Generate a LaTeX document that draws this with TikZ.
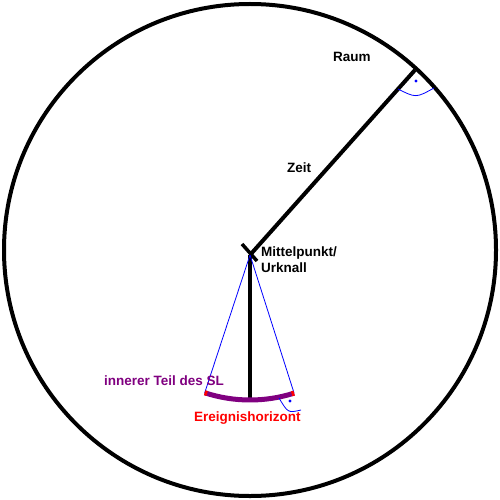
\documentclass[tikz,border=0pt]{standalone}
\usepackage{fontspec}
\setsansfont{Liberation Sans}
\usepackage{xcolor}
\usetikzlibrary{positioning,calc}
\definecolor{slpurple}{HTML}{800080}
\definecolor{slred}{HTML}{FF0000}
\definecolor{slblue}{HTML}{0000FF}

\begin{document}
\begin{tikzpicture}[x=1pt, y=1pt, line join=round, font=\sffamily\bfseries\fontsize{13.5}{15}\selectfont]
  \useasboundingbox (0,0) rectangle (500,-500);
  \fill[white] (0,0) rectangle (500,-500);
  % universe
  \draw[line width=4] (250,-250) circle (246);
  \coordinate (M) at (250,-255);
  \coordinate (R) at (415,-70);
  \coordinate (B) at (250,-398);
  \coordinate (L) at ($(M)+(251.8:145)$);
  \coordinate (Q) at ($(M)+(287.7:145)$);
  % time axis + centre cross
  \draw[line width=4] (M) -- (R);
  \draw[line width=4] (M) -- (B);
  \draw[line width=3.5] (242,-244) -- (257,-261);
  % light lines
  \draw[slblue, line width=0.8] (M) -- (L);
  \draw[slblue, line width=0.8] (M) -- (Q);
  % event horizon arc
  \draw[slpurple, line width=5] (L) arc (251.8:287.7:145);
  \draw[slred, line width=5] (L) arc (251.8:252.8:145);
  \draw[slred, line width=5] ($(M)+(286.7:145)$) arc (286.7:287.7:145);
  % right angles
  \draw[slblue, line width=0.8] (398,-89) .. controls (416,-98) .. (434,-88);
  \fill[slblue] (416,-81) circle (1.6);
  \draw[slblue, line width=0.8] (279,-398) .. controls (288,-413) .. (301,-410);
  \fill[slblue] (290,-401) circle (1.6);
  % labels
  \node[anchor=west, inner sep=0] (raum) at (333,-57) {Raum};
  \node[anchor=west, inner sep=0] (zeit) at (287,-168) {Zeit};
  \node[anchor=west, inner sep=0] (mitte) at (261,-253) {Mittelpunkt/};
  \node[anchor=west, inner sep=0] (urknall) at (261,-268) {Urknall};
  \node[anchor=west, inner sep=0, slpurple] (innen) at (104,-381) {innerer Teil des SL};
  \node[anchor=west, inner sep=0, slred] (horizont) at (194,-418) {Ereignishorizont};
\end{tikzpicture}
\end{document}
